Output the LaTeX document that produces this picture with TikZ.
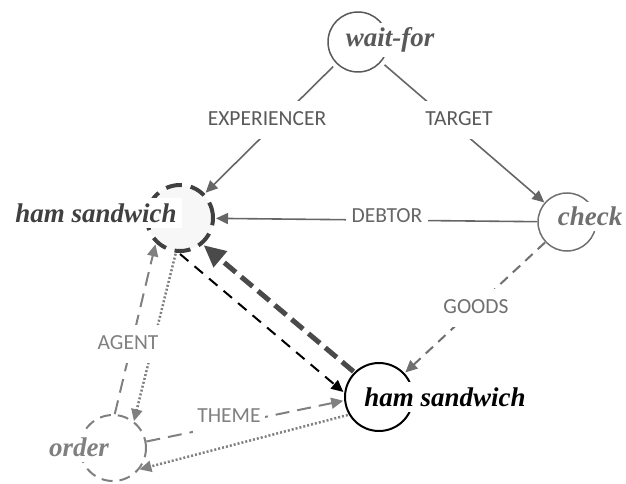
\documentclass[tikz,border=0pt]{standalone}
\usepackage{fontspec}
\setmainfont{Liberation Serif}
\newfontfamily\termfont{Liberation Serif}[BoldItalicFont={Liberation Serif Bold Italic}]
\newfontfamily\rolefont{Carlito}
\usetikzlibrary{arrows.meta}

\definecolor{ink40}{HTML}{404040}
\definecolor{ink4a}{HTML}{4A4A4A}
\definecolor{ink59}{HTML}{595959}
\definecolor{ink66}{HTML}{666666}
\definecolor{ink70}{HTML}{707070}
\definecolor{ink80}{HTML}{808080}
\definecolor{fillF7}{HTML}{F7F7F7}

\begin{document}
\begin{tikzpicture}[x=1pt,y=-1pt,
  concept/.style={circle, minimum size=#1, inner sep=0pt},
  term/.style={fill=white, inner sep=5pt,
    font=\termfont\fontsize{27}{30}\selectfont\bfseries\itshape},
  role/.style={fill=white, inner xsep=6pt, inner ysep=10pt,
    text height=14pt, text depth=4pt,
    font=\rolefont\fontsize{21.5}{24}\selectfont},
  tip/.style={-{Triangle[length=12pt,width=11pt]}},
  solidrel/.style={draw=ink66, line width=1.6pt, tip},
  goodsrel/.style={draw=ink70, line width=2pt, dash pattern=on 10pt off 7pt, tip},
  greydash/.style={draw=ink80, line width=2pt, dash pattern=on 14pt off 8pt, tip},
  greydot/.style={draw=ink80, line width=2.5pt, dash pattern=on 2pt off 2pt, tip},
  blackdash/.style={draw=black, line width=2pt, dash pattern=on 11pt off 8pt, tip},
  heavydash/.style={draw=ink4a, line width=5pt, dash pattern=on 15pt off 7pt,
    -{Triangle[length=22pt,width=20pt]}},
]
\useasboundingbox (0,0) rectangle (626,484);

% concept circles
\node[concept=60pt, draw=ink59, line width=1.5pt, outer sep=5pt] (wf) at (358,42) {};
\node[concept=66pt, draw=ink40, fill=fillF7, line width=4pt,
      dash pattern=on 16pt off 9pt, outer sep=3pt] (hl) at (180,218) {};
\node[concept=58pt, draw=ink70, line width=1.5pt, outer sep=1pt] (ck) at (567,222) {};
\node[concept=68pt, draw=black, line width=2pt, outer sep=2pt] (hb) at (379,397) {};
\node[concept=66pt, draw=ink80, line width=2pt,
      dash pattern=on 11pt off 7pt, outer sep=1pt] (od) at (113,448) {};

% relations
\draw[solidrel] (wf) -- (hl);
\draw[solidrel] (wf) -- (ck);
\draw[solidrel] (ck) -- (hl);
\draw[goodsrel] (ck) -- (hb);
\draw[heavydash] (hb.135) -- (hl.-49);
\draw[blackdash] (hl.-90) -- (hb.172);
\draw[greydash] (od.87) -- (hl.-133);
\draw[greydot] (hl.-97) -- (od.52);
\draw[greydash] (od.11) -- (hb.186);
\draw[greydot] (hb.210) -- (od.-39);

% role labels
\node[role, text=ink59] (lexp) at (267,120) {EXPERIENCER};
\node[role, text=ink59] (ltar) at (459,120) {TARGET};
\node[role, text=ink66] (ldeb) at (387,217) {DEBTOR};
\node[role, text=ink70] (lgoo) at (476,308) {GOODS};
\node[role, text=ink80] (lage) at (128,344) {AGENT};
\node[role, text=ink80, inner xsep=4pt] (lthe) at (229,417) {THEME};

% concept names
\node[term, text=ink59] (wfT) at (390,40) {wait-for};
\node[term, text=ink40] (hlT) at (96,213) {ham sandwich};
\node[term, text=ink70] (ckT) at (590,216) {check};
\node[term, text=black] (hbT) at (445,397) {ham sandwich};
\node[term, text=ink80] (odT) at (79,447) {order};
\end{tikzpicture}
\end{document}
